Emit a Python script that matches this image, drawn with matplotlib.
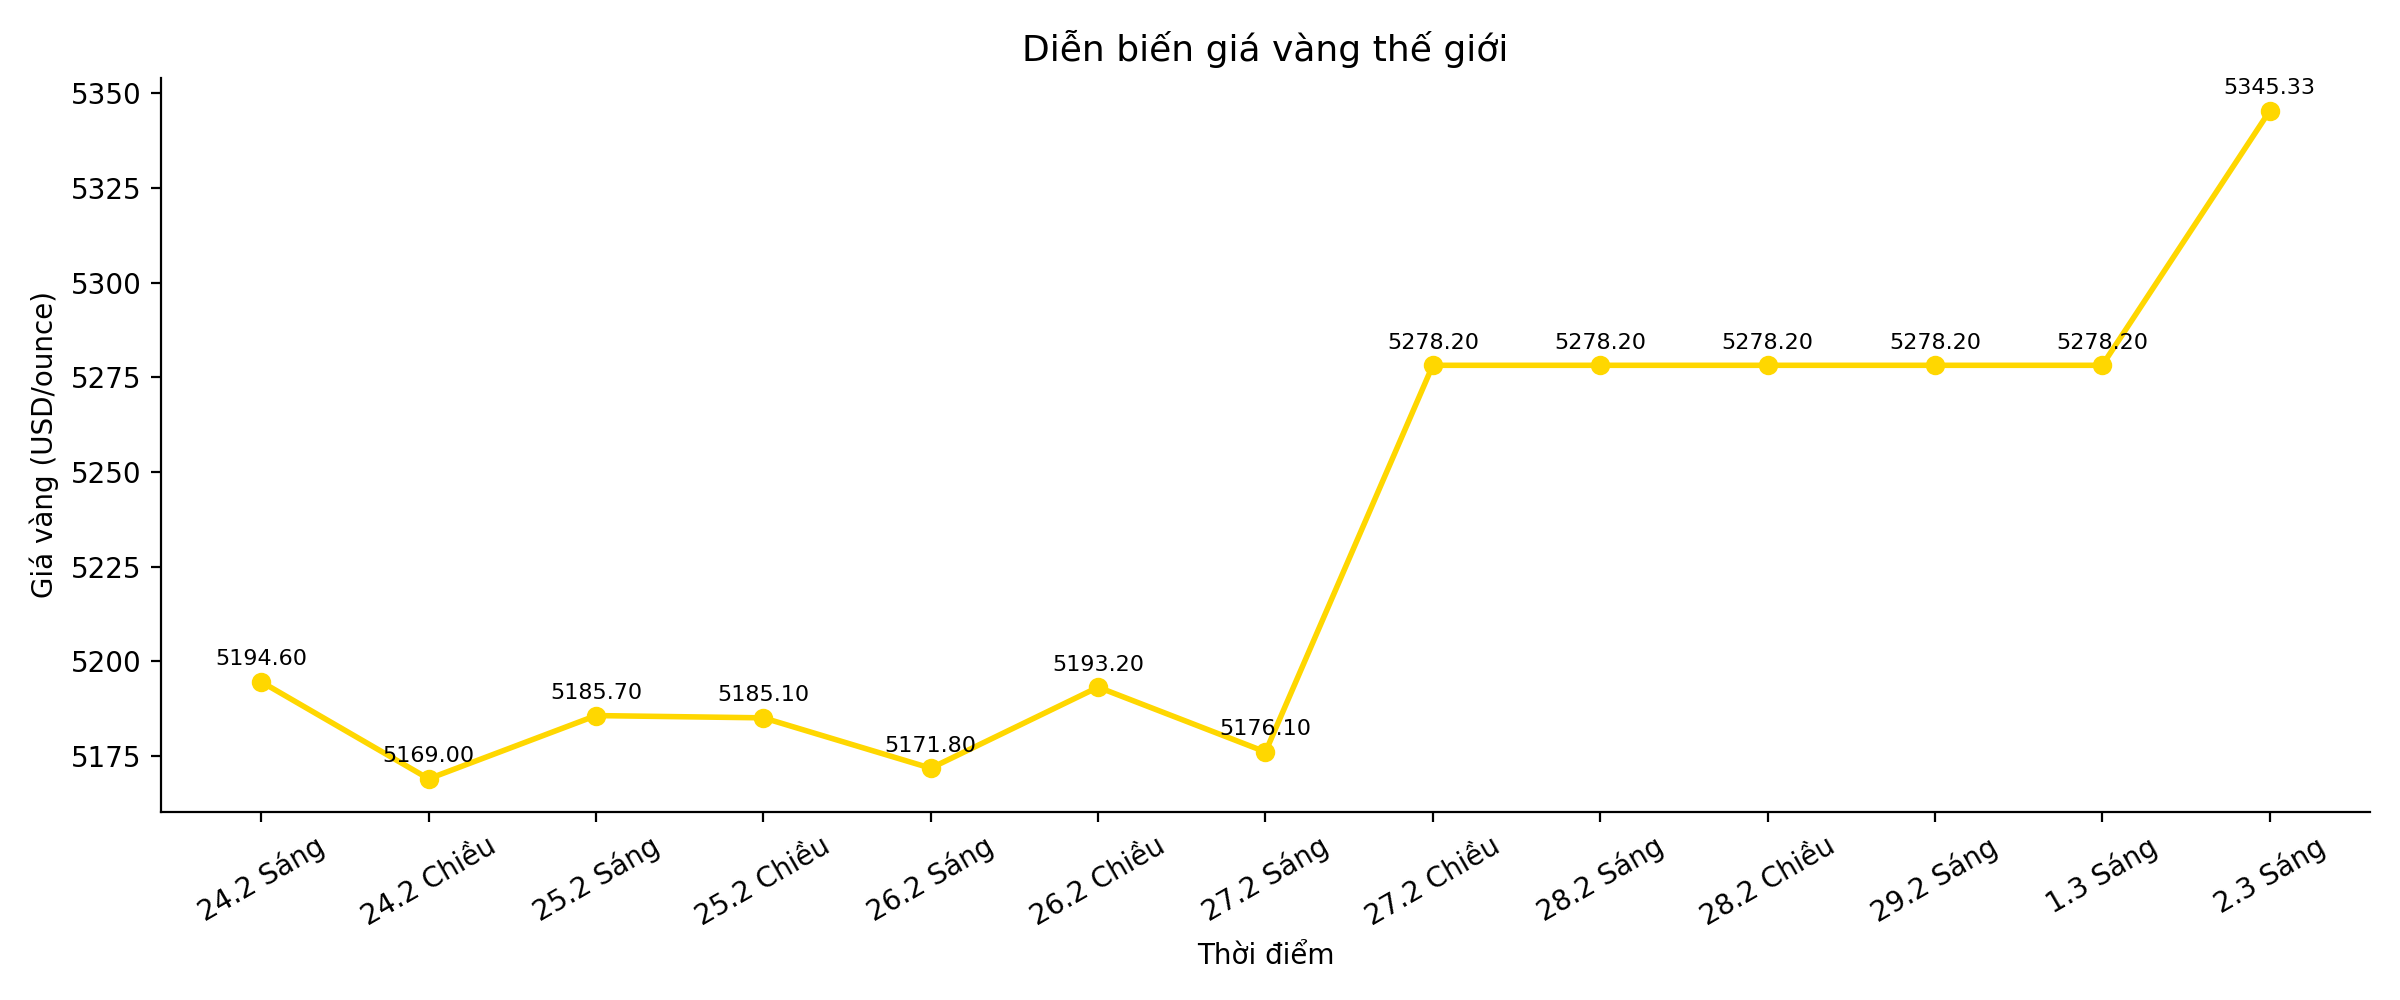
import matplotlib.pyplot as plt

labels = ["24.2 Sáng", "24.2 Chiều", "25.2 Sáng", "25.2 Chiều", "26.2 Sáng", "26.2 Chiều",
          "27.2 Sáng", "27.2 Chiều", "28.2 Sáng", "28.2 Chiều", "29.2 Sáng", "1.3 Sáng", "2.3 Sáng"]
prices = [5194.60, 5169.00, 5185.70, 5185.10, 5171.80, 5193.20,
          5176.10, 5278.20, 5278.20, 5278.20, 5278.20, 5278.20, 5345.33]


def main() -> None:
    fig, ax = plt.subplots(figsize=(12, 5), dpi=200)
    x = range(len(labels))
    ax.plot(x, prices, marker="o", color="#FFD700", linewidth=2)
    for xi, yi in zip(x, prices):
        ax.annotate(f"{yi:.2f}", (xi, yi), textcoords="offset points", xytext=(0, 6),
                    ha="center", fontsize=8)
    ax.set_xticks(list(x))
    ax.set_xticklabels(labels, rotation=30)
    ax.set_title("Diễn biến giá vàng thế giới", fontsize=13)
    ax.set_xlabel("Thời điểm")
    ax.set_ylabel("Giá vàng (USD/ounce)")
    ax.spines[["top", "right"]].set_visible(False)
    fig.tight_layout()
    fig.savefig("out.png")


if __name__ == "__main__":
    main()
